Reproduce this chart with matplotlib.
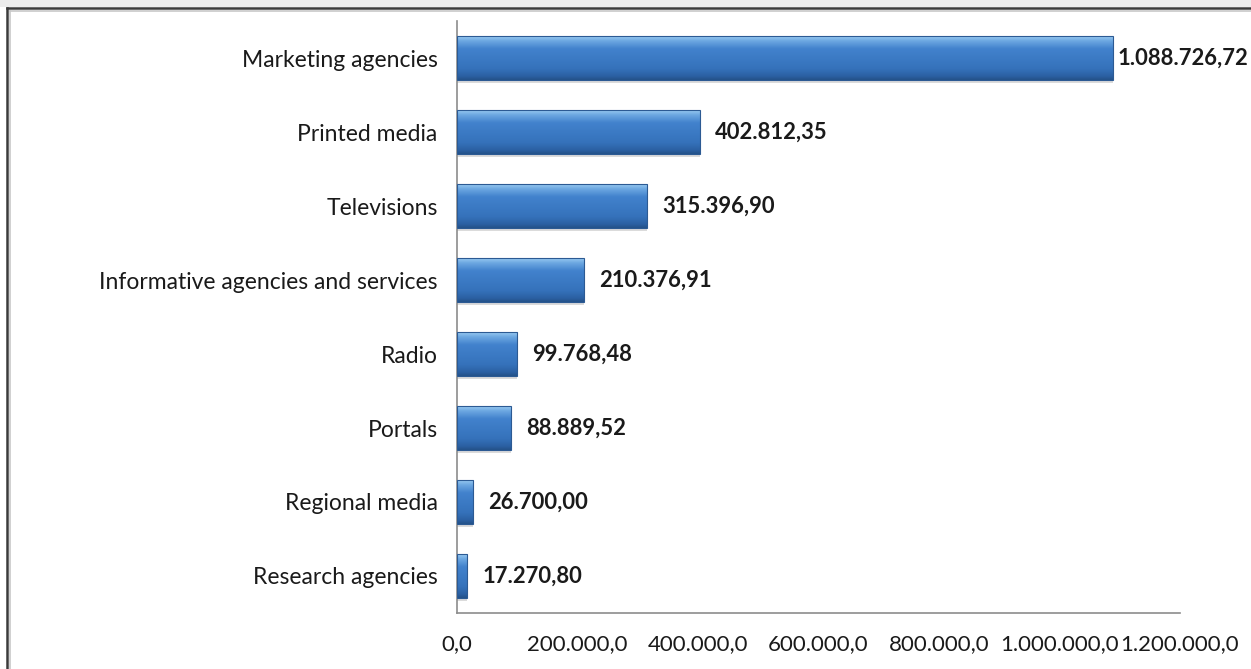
import matplotlib.pyplot as plt
import numpy as np
from matplotlib.colors import LinearSegmentedColormap
from matplotlib.patches import Rectangle
from matplotlib.lines import Line2D

categories = [
    "Marketing agencies",
    "Printed media",
    "Televisions",
    "Informative agencies and services",
    "Radio",
    "Portals",
    "Regional media",
    "Research agencies",
]
values = [1088726.72, 402812.35, 315396.90, 210376.91, 99768.48, 88889.52, 26700.00, 17270.80]
xticks = [0, 200000, 400000, 600000, 800000, 1000000, 1200000]


def euro(v, decimals):
    s = f"{v:,.{decimals}f}"
    return s.replace(",", "X").replace(".", ",").replace("X", ".")


plt.rcParams["font.family"] = ["Lato", "DejaVu Sans"]

W, H = 1251, 669
fig = plt.figure(figsize=(W / 100, H / 100), dpi=100)
fig.patch.set_facecolor("white")

# grey band at the top and the frame line
fig.patches.append(Rectangle((0, 1 - 7 / H), 1, 7 / H, transform=fig.transFigure,
                             facecolor="#ececec", edgecolor="none", zorder=0))
fig.lines.append(Line2D([7 / W, 1], [1 - 8 / H, 1 - 8 / H], transform=fig.transFigure,
                        color="#3a3a3a", lw=1.8))
fig.lines.append(Line2D([7 / W, 7 / W], [0, 1 - 8 / H], transform=fig.transFigure,
                        color="#3a3a3a", lw=1.8))
fig.lines.append(Line2D([9.5 / W, 1], [1 - 10.5 / H, 1 - 10.5 / H], transform=fig.transFigure,
                        color="#c8c8c8", lw=1.2))
fig.lines.append(Line2D([9.5 / W, 9.5 / W], [0, 1 - 10.5 / H], transform=fig.transFigure,
                        color="#c8c8c8", lw=1.2))

ax = fig.add_axes([457 / W, (H - 613) / H, (1180 - 457) / W, (613 - 21) / H])

y = np.arange(len(categories))
h = 0.595

# soft shadow under each bar
ax.barh(y + 0.04, values, height=h, left=0, color="#9a9a9a", alpha=0.35, zorder=1)
bars = ax.barh(y, values, height=h, color="#3b77c2", edgecolor="#2c5a93", linewidth=0.8, zorder=2)

cmap = LinearSegmentedColormap.from_list("bevel", [
    (0.0, "#a2d0f4"), (0.12, "#6ea9e2"), (0.3, "#4282cd"),
    (0.75, "#3572bb"), (0.92, "#2b60a2"), (1.0, "#24528a")])
grad = np.linspace(0, 1, 100).reshape(-1, 1)
for b in bars:
    x0, y0 = b.get_x(), b.get_y()
    im = ax.imshow(grad, cmap=cmap, aspect="auto", zorder=3,
                   extent=(x0, x0 + b.get_width(), y0 + b.get_height(), y0),
                   origin="upper", interpolation="bilinear")
    im.set_clip_path(b)

for b in bars:
    b.set_facecolor("none")
    b.set_zorder(4)

vmax = max(values)
for yi, v in zip(y, values):
    pad = 3 if v == vmax else 11
    ax.annotate(euro(v, 2), (v, yi), xytext=(pad, 0), textcoords="offset points",
                va="center", ha="left", fontsize=15.8, fontweight="bold", color="#1a1a1a")

ax.set_xlim(0, 1200000)
ax.set_ylim(len(categories) - 0.5, -0.5)
ax.set_yticks(y)
ax.set_yticklabels(categories, fontsize=16.5, color="#1a1a1a")
ax.set_xticks(xticks)
ax.set_xticklabels([euro(t, 1) for t in xticks], fontsize=16, color="#1a1a1a")
ax.tick_params(axis="both", length=0)
ax.tick_params(axis="y", pad=14)
ax.tick_params(axis="x", pad=15)

for side in ["top", "right"]:
    ax.spines[side].set_visible(False)
for side in ["left", "bottom"]:
    ax.spines[side].set_color("#8c8c8c")
    ax.spines[side].set_linewidth(1.2)
ax.set_facecolor("none")

fig.savefig("out.png", dpi=100)
